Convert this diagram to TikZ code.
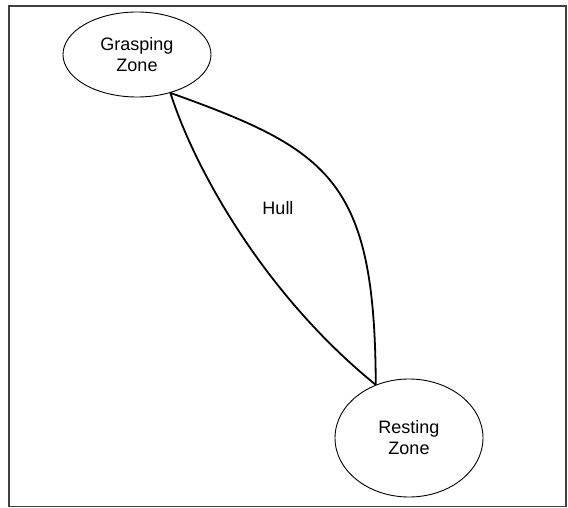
\documentclass[tikz,border=0pt]{standalone}
\usepackage{fontspec}
\setmainfont{Liberation Sans}
\usetikzlibrary{shapes.geometric}
\begin{document}
\begin{tikzpicture}[x=1pt,y=-1pt,
  zone/.style={ellipse,draw,line width=0.9pt,inner sep=0pt,align=center,
    font=\fontsize{18}{21}\selectfont},
  hullside/.style={line width=1.8pt,line join=round},
  lbl/.style={font=\fontsize{18}{21}\selectfont,inner sep=0pt}]
  \useasboundingbox (0,0) rectangle (568,508);
  % frame
  \draw[line width=1.4pt,black!75] (9,6) rectangle (566,506.5);
  % zones
  \node[zone,minimum width=148pt,minimum height=85pt] (g) at (137,54.5) {Grasping\\Zone};
  \node[zone,minimum width=148pt,minimum height=118pt] (r) at (409,438) {Resting\\Zone};
  % hull outline between the zones
  \draw[hullside] (g.-49) .. controls (195,170) and (265,295) .. (r.122);
  \draw[hullside] (g.-49) .. controls (330,150) and (375,180) .. (r.122);
  \node[lbl] (hull) at (278,208.5) {Hull};
\end{tikzpicture}
\end{document}
